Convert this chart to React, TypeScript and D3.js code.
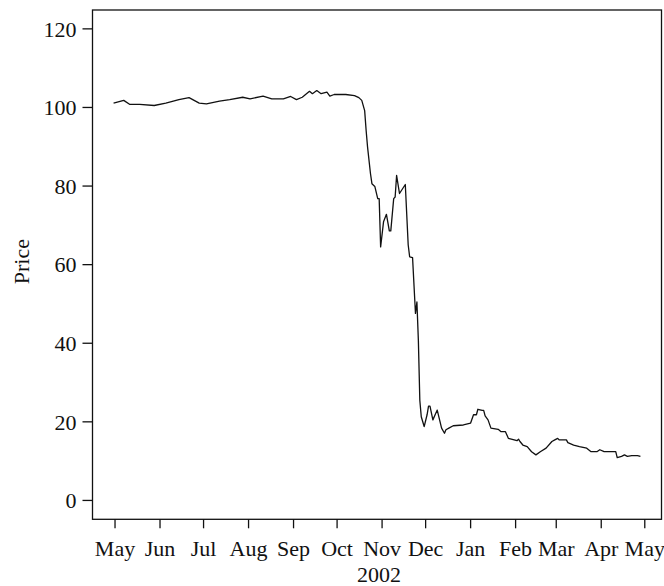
import React from "react";
import * as d3 from "d3";

const dates: string[] = [
  "2001-04-30","2001-05-07","2001-05-11","2001-05-18","2001-05-28","2001-06-05","2001-06-14","2001-06-21",
  "2001-06-28","2001-07-03","2001-07-12","2001-07-19","2001-07-28","2001-08-02","2001-08-11","2001-08-17",
  "2001-08-25","2001-08-30","2001-09-03","2001-09-07","2001-09-12","2001-09-14","2001-09-17","2001-09-20",
  "2001-09-24","2001-09-26","2001-09-29","2001-10-07","2001-10-13","2001-10-16","2001-10-18","2001-10-20",
  "2001-10-21","2001-10-22","2001-10-24","2001-10-25","2001-10-27","2001-10-29","2001-10-30","2001-10-31",
  "2001-11-02","2001-11-04","2001-11-06","2001-11-07","2001-11-09","2001-11-10","2001-11-11","2001-11-13",
  "2001-11-17","2001-11-19","2001-11-20","2001-11-22","2001-11-24","2001-11-25","2001-11-26","2001-11-27",
  "2001-11-28","2001-11-30","2001-12-02","2001-12-03","2001-12-04","2001-12-06","2001-12-08","2001-12-09",
  "2001-12-12","2001-12-14","2001-12-15","2001-12-17","2001-12-20","2001-12-27","2002-01-01","2002-01-03",
  "2002-01-05","2002-01-06","2002-01-09","2002-01-10","2002-01-11","2002-01-13","2002-01-15","2002-01-20",
  "2002-01-22","2002-01-25","2002-01-27","2002-01-29","2002-02-02","2002-02-03","2002-02-04","2002-02-06",
  "2002-02-09","2002-02-12","2002-02-15","2002-02-18","2002-02-22","2002-02-26","2002-02-28","2002-03-02",
  "2002-03-03","2002-03-08","2002-03-09","2002-03-13","2002-03-17","2002-03-22","2002-03-25","2002-03-29",
  "2002-03-31","2002-04-03","2002-04-11","2002-04-12","2002-04-15","2002-04-17","2002-04-19","2002-04-22",
  "2002-04-26","2002-04-28"
];

const prices: number[] = [
  101.1,101.8,100.8,100.8,100.5,101.1,102.0,102.5,
  101.1,100.9,101.6,102.0,102.6,102.2,102.9,102.2,
  102.2,102.8,102.0,102.6,104.1,103.5,104.3,103.5,
  103.9,102.9,103.3,103.3,103.0,102.5,101.8,99.2,
  94.2,89.9,83.2,80.6,79.9,76.8,76.8,64.5,
  70.9,72.8,68.6,68.6,76.8,77.2,82.7,78.1,
  80.4,65.0,62.0,61.8,47.6,50.5,40.8,25.5,
  21.3,18.8,21.8,24.0,24.0,20.5,22.2,23.0,
  18.4,17.1,18.0,18.4,19.0,19.2,19.7,21.8,
  21.8,23.2,22.9,22.9,21.5,20.5,18.4,18.1,
  17.5,17.5,15.8,15.6,15.2,15.6,15.0,14.1,
  13.7,12.4,11.6,12.4,13.3,15.0,15.4,15.8,
  15.4,15.4,14.7,14.1,13.7,13.3,12.4,12.4,
  12.9,12.4,12.4,10.9,11.2,11.6,11.2,11.4,
  11.4,11.2
];

const yTicks: number[] = [0, 20, 40, 60, 80, 100, 120];
const monthLabels: string[] = ["May","Jun","Jul","Aug","Sep","Oct","Nov","Dec","Jan","Feb","Mar","Apr","May"];
const yLabel = "Price";
const xLabel = "2002";

export default function App() {
  const W = 664, H = 586;
  const left = 92.5, right = 661.5, top = 10, bottom = 519.3;
  const parse = d3.timeParse("%Y-%m-%d");
  const data = dates.map((d, i) => ({ date: parse(d) as Date, value: prices[i] }));
  const ext = d3.extent(data, d => d.date.getTime()) as [number, number];
  const pad = (ext[1] - ext[0]) * 0.04;
  const x = d3.scaleTime()
    .domain([new Date(ext[0] - pad), new Date(ext[1] + pad)])
    .range([left, right]);
  const yPad = 120 * 0.04;
  const y = d3.scaleLinear().domain([0 - yPad, 120 + yPad]).range([bottom, top]);
  const line = d3.line<{ date: Date; value: number }>()
    .x(d => x(d.date))
    .y(d => y(d.value));
  const monthTicks = d3.timeMonth.range(new Date(2001, 4, 1), new Date(2002, 4, 2));
  const font = "'Liberation Serif', 'DejaVu Serif', serif";
  const col = "#111";
  const fs = 22;

  return (
    <svg width={W} height={H} style={{ position: "absolute", left: 0, top: 0, background: "#fff" }}
      fontFamily={font}>
      <rect x={left} y={top} width={right - left} height={bottom - top} fill="none" stroke={col} strokeWidth={1.3} />
      <path d={line(data) || ""} fill="none" stroke={col} strokeWidth={1.3} strokeLinejoin="round" />
      {yTicks.map(t => (
        <g key={"y" + t}>
          <line x1={left} x2={left - 10} y1={y(t)} y2={y(t)} stroke={col} strokeWidth={1.3} />
          <text x={left - 16} y={y(t)} dy="0.35em" textAnchor="end" fontSize={fs} fill={col}>{t}</text>
        </g>
      ))}
      {monthTicks.map((m, i) => (
        <g key={"x" + i}>
          <line x1={x(m)} x2={x(m)} y1={bottom} y2={bottom + 9} stroke={col} strokeWidth={1.3} />
          <text x={x(m)} y={556} textAnchor="middle" fontSize={fs} fill={col}>{monthLabels[i]}</text>
        </g>
      ))}
      <text x={(left + right) / 2 + 2} y={582} textAnchor="middle" fontSize={fs} fill={col}>{xLabel}</text>
      <text transform={`translate(29, ${(top + bottom) / 2 - 3}) rotate(-90)`} textAnchor="middle" fontSize={fs} fill={col}>{yLabel}</text>
    </svg>
  );
}
